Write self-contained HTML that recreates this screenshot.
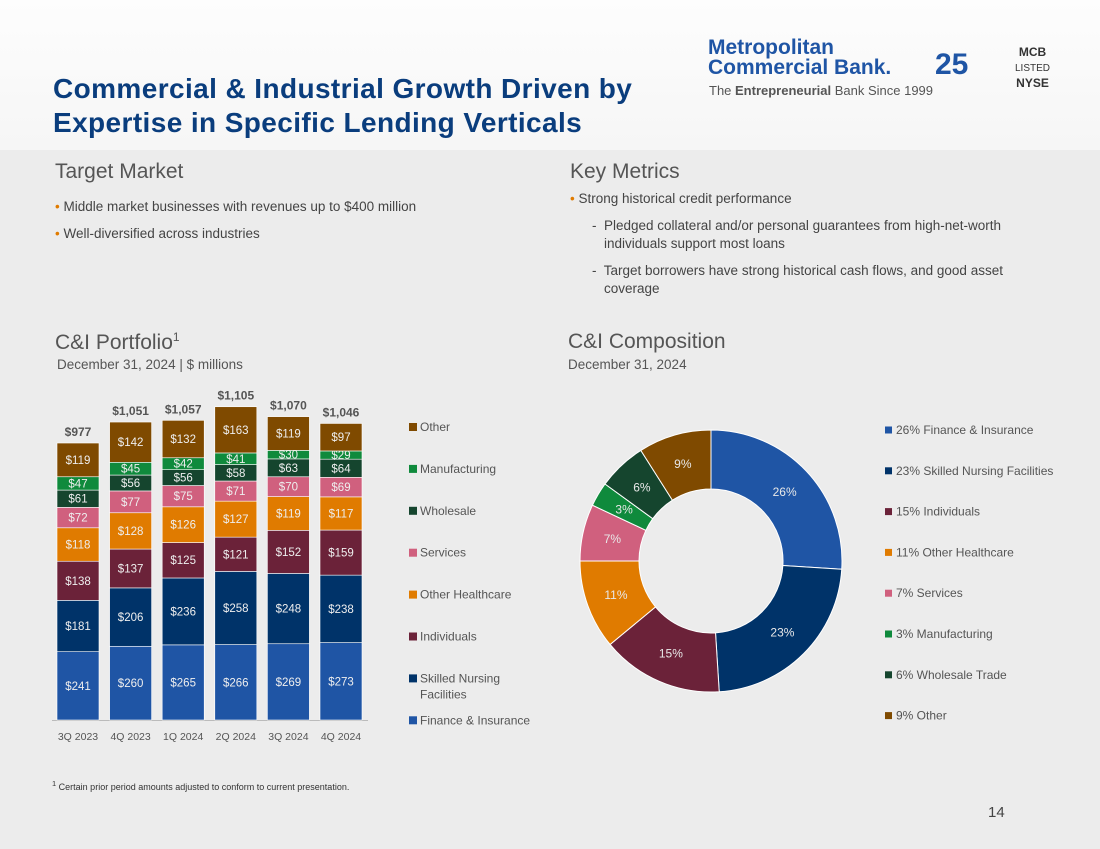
<!DOCTYPE html>
<html><head><meta charset="utf-8"><style>
body{margin:0;width:1100px;height:849px;overflow:hidden;font-family:"Liberation Sans",sans-serif;background:#ececec;position:relative}
.abs{position:absolute}
.title{left:53px;top:72px;font-size:28px;font-weight:bold;color:#0a3d7d;line-height:34px;letter-spacing:0.4px}
.h2{font-size:21px;color:#555}
.sub{font-size:13.5px;color:#555}
.bul{font-size:13.5px;color:#444}
.bul .d{color:#e07b00}
.leg{font-size:12px;color:#555}
</style></head><body>
<div class="abs" style="left:0;top:0;width:1100px;height:150px;background:linear-gradient(#fdfdfd,#f6f6f6)"></div>
<div class="abs title">Commercial &amp; Industrial Growth Driven by<br>Expertise in Specific Lending Verticals</div>
<div class="abs" style="left:708px;top:38px;color:#1f55a5;font-weight:bold;font-size:21px;line-height:20px">Metropolitan<br>Commercial Bank.</div>
<div class="abs" style="left:709px;top:83px;font-size:13px;color:#555">The <b>Entrepreneurial</b> Bank Since 1999</div>
<div class="abs" style="left:935px;top:48px;font-size:30px;font-weight:bold;color:#1f55a5">25</div>
<div class="abs" style="left:1015px;top:45px;font-size:12px;font-weight:bold;color:#333;line-height:15px;text-align:center">MCB<br><span style="font-weight:normal;font-size:10px">LISTED</span><br>NYSE</div>

<div class="abs h2" style="left:55px;top:160px">Target Market</div>
<div class="abs bul" style="left:55px;top:193px;line-height:27px"><span class="d">•</span> Middle market businesses with revenues up to $400 million<br><span class="d">•</span> Well-diversified across industries</div>
<div class="abs h2" style="left:570px;top:160px">Key Metrics</div>
<div class="abs bul" style="left:570px;top:190px;line-height:18px"><span class="d">•</span> Strong historical credit performance
<div style="margin:9px 0 0 34px;text-indent:-12px;width:420px">-&nbsp; Pledged collateral and/or personal guarantees from high-net-worth individuals support most loans</div>
<div style="margin:9px 0 0 34px;text-indent:-12px;width:420px">-&nbsp; Target borrowers have strong historical cash flows, and good asset coverage</div></div>

<div class="abs h2" style="left:55px;top:330px">C&amp;I Portfolio<sup style="font-size:12px">1</sup></div>
<div class="abs sub" style="left:57px;top:357px">December 31, 2024 | $ millions</div>
<div class="abs h2" style="left:568px;top:330px">C&amp;I Composition</div>
<div class="abs sub" style="left:568px;top:357px">December 31, 2024</div>
<div class="abs" style="left:52px;top:779px;font-size:9px;color:#333"><sup>1</sup> Certain prior period amounts adjusted to conform to current presentation.</div>
<div class="abs" style="left:988px;top:804px;font-size:15px;color:#444">14</div>

<svg class="abs" style="left:0;top:0" width="1100" height="849" id="chart"></svg>
<script>
const quarters=["3Q 2023","4Q 2023","1Q 2024","2Q 2024","3Q 2024","4Q 2024"];
const seriesNames=["Finance & Insurance","Skilled Nursing Facilities","Individuals","Other Healthcare","Services","Wholesale","Manufacturing","Other"];
const finance=[241,260,265,266,269,273];
const nursing=[181,206,236,258,248,238];
const individuals=[138,137,125,121,152,159];
const otherHealth=[118,128,126,127,119,117];
const services=[72,77,75,71,70,69];
const wholesale=[61,56,56,58,63,64];
const manufacturing=[47,45,42,41,30,29];
const other=[119,142,132,163,119,97];
const totals=["$977","$1,051","$1,057","$1,105","$1,070","$1,046"];
const colors=["#1f55a5","#003369","#6b2239","#e07b00","#d0607e","#15452e","#0f8a3c","#7f4a00"];
const legendBar=["Other","Manufacturing","Wholesale","Services","Other Healthcare","Individuals","Skilled Nursing|Facilities","Finance & Insurance"];
const legendBarColors=["#7f4a00","#0f8a3c","#15452e","#d0607e","#e07b00","#6b2239","#003369","#1f55a5"];
const pieValues=[26,23,15,11,7,3,6,9];
const pieLabels=["26% Finance & Insurance","23% Skilled Nursing Facilities","15% Individuals","11% Other Healthcare","7% Services","3% Manufacturing","6% Wholesale Trade","9% Other"];
const pieColors=["#1f55a5","#003369","#6b2239","#e07b00","#d0607e","#0f8a3c","#15452e","#7f4a00"];

const svg=document.getElementById('chart');const NS="http://www.w3.org/2000/svg";
function mk(t,a,txt){const e=document.createElementNS(NS,t);for(const k in a)e.setAttribute(k,a[k]);if(txt!==undefined)e.textContent=txt;svg.appendChild(e);return e;}
const series=[finance,nursing,individuals,otherHealth,services,wholesale,manufacturing,other];
const base=720,scale=0.2835,x0=57,pitch=52.6,bw=42;
const yS=v=>v*scale;const xS=i=>x0+i*pitch;
let ax=mk('line',{x1:52,y1:base+0.5,x2:368,y2:base+0.5,stroke:'#bbb'});

quarters.forEach((q,i)=>{
  let cum=0;
  series.forEach((s,k)=>{
    const h=yS(s[i]);const y=base-yS(cum+s[i]);
    const r=mk('rect',{x:xS(i),y:y,width:bw,height:h,fill:colors[k],stroke:'#fff','stroke-width':0.6});
    
    const t=mk('text',{x:xS(i)+bw/2,y:y+h/2+4,'text-anchor':'middle','font-size':11.5,fill:'#eeeeee'},'$'+s[i]);
    
    cum+=s[i];
  });
  const tl=mk('text',{x:xS(i)+bw/2,y:base-yS(cum)-7,'text-anchor':'middle','font-size':12,'font-weight':'bold',fill:'#555'},totals[i]);
  
  const xl=mk('text',{x:xS(i)+bw/2,y:740,'text-anchor':'middle','font-size':10.5,fill:'#555'},q);
  
});
legendBar.forEach((n,i)=>{
  const y=427+i*41.9;
  const r=mk('rect',{x:409,y:y-4,width:8,height:8,fill:legendBarColors[i]});
  
  n.split('|').forEach((p,j)=>{const t=mk('text',{x:420,y:y+4+j*16,'font-size':12,fill:'#555'},p);
  });
});
const cx=711,cy=561,R=131,r0=72;
const tot=pieValues.reduce((a,b)=>a+b,0);let ang=0;
pieValues.forEach((v,i)=>{
  const a0=ang/tot*2*Math.PI,a1=(ang+v)/tot*2*Math.PI;ang+=v;
  const p=(a,rr)=>[cx+rr*Math.sin(a),cy-rr*Math.cos(a)];
  const [x1,y1]=p(a0,R),[x2,y2]=p(a1,R),[x3,y3]=p(a1,r0),[x4,y4]=p(a0,r0);
  const lg=(a1-a0)>Math.PI?1:0;
  const s=mk('path',{d:`M${x1},${y1}A${R},${R} 0 ${lg} 1 ${x2},${y2}L${x3},${y3}A${r0},${r0} 0 ${lg} 0 ${x4},${y4}Z`,fill:pieColors[i],stroke:'#fff','stroke-width':1});
  
  const [lx,ly]=p((a0+a1)/2,101);
  const t=mk('text',{x:lx,y:ly+4,'text-anchor':'middle','font-size':12,fill:'#e8e8e8'},v+'%');
  
});
pieLabels.forEach((n,i)=>{
  const y=430+i*40.8;
  const r=mk('rect',{x:885,y:y-3.5,width:7,height:7,fill:pieColors[i]});
  
  const t=mk('text',{x:896,y:y+4,'font-size':12,fill:'#555'},n);
  
});
</script>
</body></html>
